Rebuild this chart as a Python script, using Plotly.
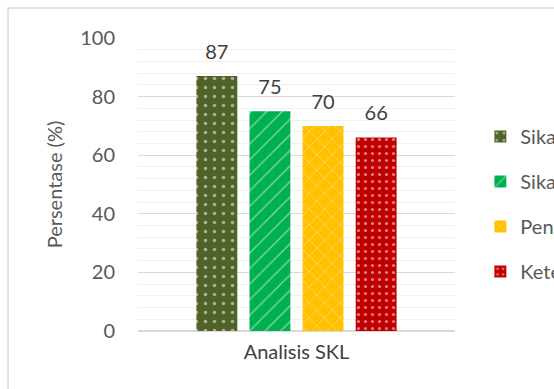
import plotly.graph_objects as go

category = ["Analisis SKL"]
series_names = ["Sikap Spiritual", "Sikap Sosial", "Pengetahuan", "Keterampilan"]
series_values = [87, 75, 70, 66]
colors = ["#4f6228", "#00b050", "#ffc000", "#c00000"]
patterns = [".", "/", "x", "."]
pattern_sizes = [9, 11, 11, 7]
pattern_solidity = [0.12, 0.12, 0.12, 0.16]
y_ticks = [0, 20, 40, 60, 80, 100]

FONT = "Lato, 'Open Sans', sans-serif"
BARGAP = 0.33

fig = go.Figure()
for i, (name, val) in enumerate(zip(series_names, series_values)):
    fig.add_trace(go.Bar(
        x=category, y=[val], name=name,
        legendgroup=name, offsetgroup=str(i),
        marker=dict(color=colors[i], line=dict(width=0),
                    pattern=dict(shape=patterns[i], fgcolor="white", size=pattern_sizes[i],
                                 solidity=pattern_solidity[i], fillmode="overlay")),
        hoverinfo="skip",
    ))
for i, (name, val) in enumerate(zip(series_names, series_values)):
    fig.add_trace(go.Scatter(
        x=category, y=[val], mode="markers+text", offsetgroup=str(i),
        text=[str(val)], textposition="top center",
        textfont=dict(family=FONT, size=20, color="#404040"),
        marker=dict(size=18, color="rgba(0,0,0,0)"),
        showlegend=False, hoverinfo="skip", cliponaxis=False,
    ))

fig.update_layout(
    width=554, height=389,
    margin=dict(l=138, r=99, t=38, b=58, autoexpand=False),
    paper_bgcolor="white", plot_bgcolor="white",
    barmode="group", bargap=BARGAP, bargroupgap=0.23,
    scattermode="group", scattergap=BARGAP,
    font=dict(family=FONT, size=20, color="#595959"),
    showlegend=True,
    legend=dict(x=1.08, y=0.73, xanchor="left", yanchor="top",
                font=dict(family=FONT, size=20, color="#595959"),
                tracegroupgap=16, bgcolor="rgba(0,0,0,0)"),
    yaxis=dict(range=[0, 100], tickvals=y_ticks, showgrid=True,
               gridcolor="#d9d9d9", gridwidth=1,
               minor=dict(dtick=4, showgrid=True, gridcolor="#f0f0f0", gridwidth=1),
               zeroline=True, zerolinecolor="#d9d9d9", zerolinewidth=1.5,
               showline=False, ticks="", ticklabelstandoff=22,
               tickfont=dict(family=FONT, size=20, color="#595959"),
               title=dict(text="Persentase (%)", standoff=12,
                          font=dict(family=FONT, size=20, color="#595959"))),
    xaxis=dict(showline=False, ticks="", showgrid=False, ticklabelstandoff=7,
               tickfont=dict(family=FONT, size=20, color="#404040")),
    shapes=[dict(type="rect", xref="paper", yref="paper",
                 x0=-0.41, x1=1.5, y0=-0.3, y1=1.102,
                 line=dict(color="#d9d9d9", width=1.5), fillcolor="rgba(0,0,0,0)",
                 layer="below")],
)

fig.write_html("out.html")
